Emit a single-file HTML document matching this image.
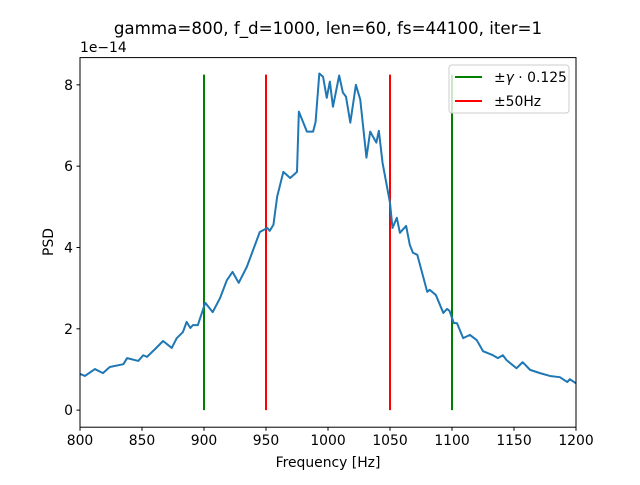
<!DOCTYPE html>
<html><head><meta charset="utf-8"><style>
body{margin:0;background:#fff}
svg text{font-family:"DejaVu Sans","Liberation Sans",sans-serif;fill:#000}
</style></head><body>
<svg id="c" width="640" height="480" xmlns="http://www.w3.org/2000/svg"></svg>
<script>
const freqs=[800,804,812,818.5,824,835,838,847,851,854,860.5,867,874,878,883,886,889,891,895,901,907,913,918.5,923,928,934.5,945,951,953,956,959,964,969.5,975,976.5,983,988,990,993,996,999,1001.5,1004,1009,1012,1014.5,1018,1022.5,1026,1031,1034,1039,1041,1044,1050,1052,1055.5,1058,1063,1066,1068.5,1072,1080,1082,1087,1093,1096,1098,1101.5,1104,1109,1114.5,1120,1125,1133,1137,1141,1144,1152,1157,1163,1171,1179,1187,1193,1195,1201];
const psd=[0.89,0.84,1.01,0.91,1.06,1.13,1.28,1.21,1.35,1.31,1.50,1.70,1.53,1.77,1.92,2.17,2.02,2.09,2.09,2.64,2.41,2.76,3.20,3.40,3.13,3.52,4.38,4.48,4.41,4.56,5.25,5.86,5.71,5.86,7.34,6.85,6.85,7.09,8.28,8.20,7.68,8.08,7.46,8.23,7.81,7.71,7.07,8.00,7.64,6.21,6.85,6.58,6.87,6.08,5.10,4.48,4.73,4.36,4.53,4.06,3.87,3.82,2.91,2.96,2.83,2.39,2.49,2.44,2.14,2.14,1.77,1.85,1.72,1.45,1.35,1.28,1.35,1.23,1.03,1.18,0.99,0.91,0.84,0.81,0.69,0.76,0.64];
const greenLines=[900,1100];
const redLines=[950,1050];
const vlineTop=8.25;
const xTicks=[800,850,900,950,1000,1050,1100,1150,1200];
const yTicks=[0,2,4,6,8];
const L=80,R=576,T=57.6,B=427.2,X0=800,X1=1200,Y0=-0.42,Y1=8.67;
const sx=f=>L+(f-X0)/(X1-X0)*(R-L);
const sy=v=>B-(v-Y0)/(Y1-Y0)*(B-T);
const svg=document.getElementById('c');
const NS='http://www.w3.org/2000/svg';
function mk(t,a,p){const e=document.createElementNS(NS,t);for(const k in a)e.setAttribute(k,a[k]);(p||svg).appendChild(e);return e;}
const clip=mk('clipPath',{id:'cp'});mk('rect',{x:L,y:T,width:R-L,height:B-T},clip);
const g=mk('g',{'clip-path':'url(#cp)'});


greenLines.forEach(f=>{const l=mk('line',{x1:sx(f),x2:sx(f),y1:sy(0),y2:sy(vlineTop),stroke:'#008000','stroke-width':2},g);

});
redLines.forEach(f=>{const l=mk('line',{x1:sx(f),x2:sx(f),y1:sy(0),y2:sy(vlineTop),stroke:'#ff0000','stroke-width':2},g);

});
const pl=mk('polyline',{points:freqs.map((f,i)=>sx(f)+','+sy(psd[i])).join(' '),fill:'none',stroke:'#1f77b4','stroke-width':2,'stroke-linejoin':'round'},g);


const fr=mk('rect',{x:L,y:T,width:R-L,height:B-T,fill:'none',stroke:'#000','stroke-width':1});


xTicks.forEach(t=>{const x=sx(t);mk('line',{x1:x,x2:x,y1:B,y2:B+3.5,stroke:'#000'});
const tx=mk('text',{x:x,y:B+18,'text-anchor':'middle','font-size':13.9});tx.textContent=t;

});
yTicks.forEach(t=>{const y=sy(t);mk('line',{x1:L-3.5,x2:L,y1:y,y2:y,stroke:'#000'});
const tx=mk('text',{x:L-7,y:y+5,'text-anchor':'end','font-size':13.9});tx.textContent=t;

});
</script>
<svg width="640" height="480" style="position:absolute;left:0;top:0" xmlns="http://www.w3.org/2000/svg">
<text x="328" y="34" text-anchor="middle" font-size="16.7">gamma=800, f_d=1000, len=60, fs=44100, iter=1</text>
<text x="80" y="52" font-size="13.9">1e−14</text>
<text x="328" y="467" text-anchor="middle" font-size="13.9">Frequency [Hz]</text>
<text transform="translate(53,242) rotate(-90)" text-anchor="middle" font-size="13.9">PSD</text>
<g>
<rect x="449" y="65" width="120" height="48" rx="3" fill="#fff" fill-opacity="0.8" stroke="#ccc"/>
<line x1="455" x2="482" y1="77" y2="77" stroke="#008000" stroke-width="2"/>
<text x="494" y="82" font-size="13.9">±<tspan font-style="italic">γ</tspan> · 0.125</text>
<line x1="455" x2="482" y1="101" y2="101" stroke="#ff0000" stroke-width="2"/>
<text x="494" y="106" font-size="13.9">±50Hz</text>
</g>
</svg>
</body></html>
